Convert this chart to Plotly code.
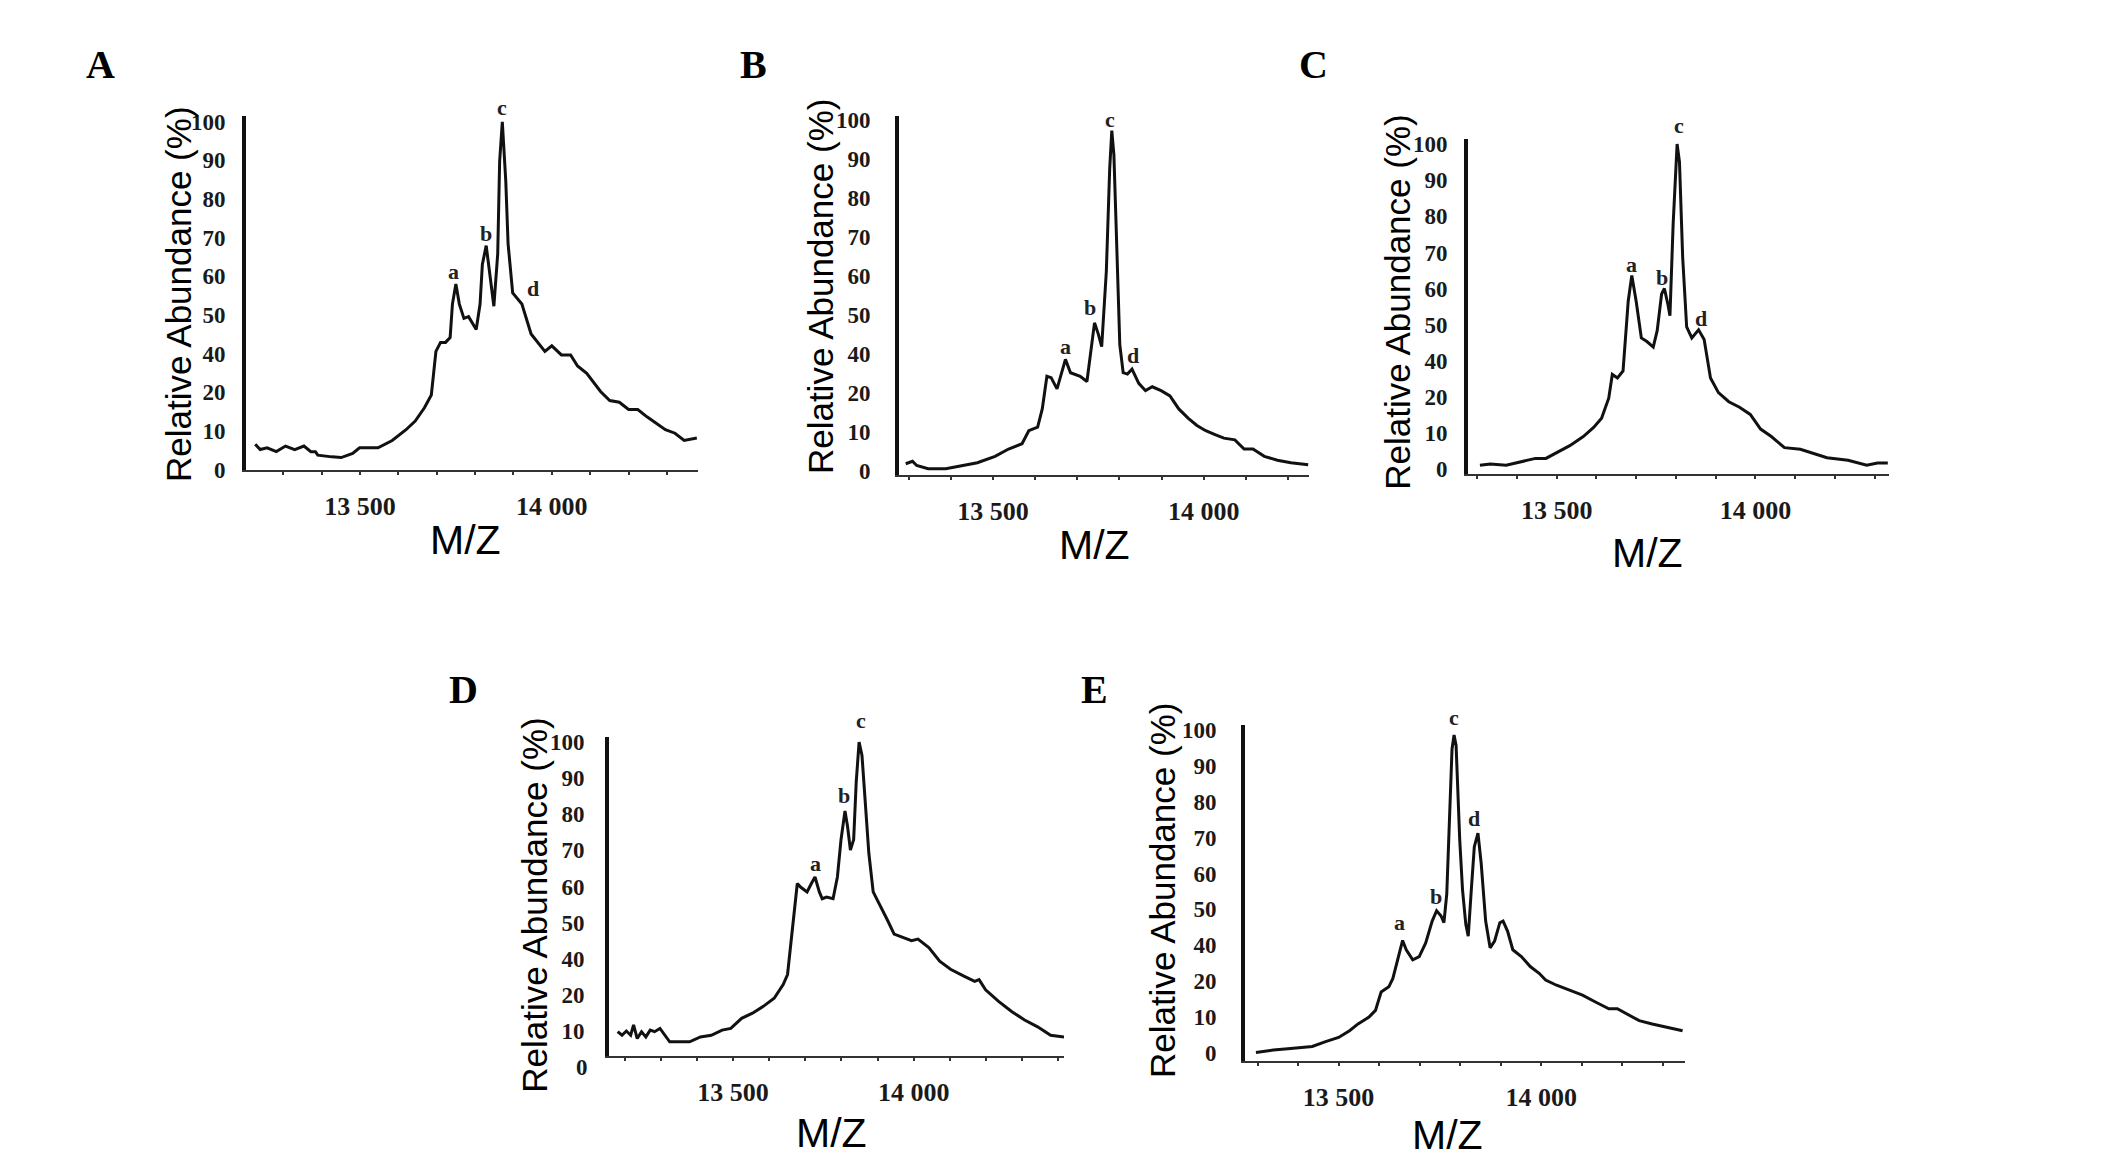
import plotly.graph_objects as go

# ---- spectra (m/z, relative abundance %) ----
A_MZ = [13227, 13240, 13258, 13282, 13306, 13330, 13354, 13372, 13384, 13390,
        13427, 13451, 13481, 13499, 13547, 13584, 13620, 13644, 13668, 13686,
        13698, 13710, 13723, 13735, 13741, 13750, 13759, 13771, 13783, 13795,
        13803, 13813, 13819, 13829, 13837, 13849, 13859, 13864, 13871, 13880,
        13886, 13898, 13922, 13946, 13982, 14000, 14025, 14049, 14067, 14091,
        14127, 14151, 14176, 14200, 14224, 14248, 14296, 14321, 14345, 14363, 14378]
A_ABUND = [7.3, 5.8, 6.3, 5.2, 6.8, 5.8, 6.8, 5.2, 5.2, 4.2,
           3.7, 3.5, 4.7, 6.3, 6.3, 8.4, 11.5, 14.0, 17.8, 21.5,
           34.0, 36.6, 36.6, 38.0, 47.6, 53.4, 47.6, 43.5, 44.0, 41.9,
           40.3, 47.6, 59.0, 64.4, 58.0, 47.0, 62.0, 88.5, 100.0, 83.0,
           65.0, 50.8, 47.6, 39.0, 34.0, 35.6, 33.0, 33.0, 29.8, 27.7,
           22.5, 19.9, 19.4, 17.3, 17.3, 15.2, 11.5, 10.5, 8.4, 8.9, 9.1]

B_MZ = [13293, 13309, 13319, 13346, 13388, 13420, 13463, 13505, 13537, 13569,
        13585, 13606, 13617, 13628, 13638, 13652, 13665, 13672, 13684, 13707,
        13723, 13734, 13741, 13750, 13758, 13769, 13777, 13782, 13787, 13793,
        13801, 13809, 13819, 13830, 13846, 13862, 13878, 13899, 13920, 13941,
        13963, 13984, 14005, 14027, 14048, 14074, 14096, 14117, 14144, 14175,
        14207, 14248]
B_ABUND = [2.1, 2.8, 1.6, 0.7, 0.7, 1.4, 2.4, 4.2, 6.3, 7.8,
           11.5, 12.5, 17.7, 27.0, 26.6, 23.4, 28.6, 31.8, 28.0, 27.0,
           25.5, 35.0, 42.2, 39.0, 35.4, 56.8, 86.0, 96.9, 90.0, 67.0,
           36.0, 28.0, 27.6, 29.0, 25.0, 22.9, 24.0, 22.9, 21.4, 17.7,
           15.1, 13.0, 11.5, 10.4, 9.4, 8.9, 6.3, 6.3, 4.2, 3.1,
           2.4, 1.8]

C_MZ = [13307, 13333, 13373, 13407, 13447, 13473, 13500, 13533, 13567, 13593,
        13613, 13631, 13640, 13653, 13667, 13673, 13680, 13689, 13700, 13713,
        13727, 13743, 13753, 13764, 13771, 13780, 13785, 13793, 13803, 13809,
        13817, 13827, 13840, 13857, 13871, 13887, 13907, 13933, 13960, 13987,
        14013, 14040, 14073, 14113, 14140, 14180, 14233, 14280, 14307, 14333]
C_ABUND = [1.3, 1.7, 1.3, 2.2, 3.4, 3.4, 5.1, 7.3, 10.1, 12.9,
           15.7, 21.9, 29.2, 28.1, 30.3, 39.3, 51.7, 59.6, 51.7, 40.4,
           39.3, 37.6, 42.7, 53.9, 55.6, 50.6, 47.2, 75.3, 100.0, 94.4,
           65.2, 43.8, 40.4, 42.9, 39.9, 28.1, 23.6, 20.8, 19.1, 16.9,
           12.4, 10.1, 6.7, 6.2, 5.1, 3.6, 2.8, 1.3, 2.0, 2.0]

D_MZ = [13181, 13193, 13205, 13217, 13225, 13235, 13247, 13259, 13271, 13283,
        13298, 13313, 13325, 13355, 13380, 13410, 13440, 13470, 13494, 13524,
        13554, 13584, 13614, 13639, 13651, 13659, 13669, 13678, 13687, 13705,
        13717, 13727, 13739, 13747, 13759, 13777, 13789, 13799, 13810, 13817,
        13825, 13834, 13841, 13849, 13857, 13865, 13876, 13888, 13910, 13928,
        13946, 13970, 13994, 14012, 14042, 14072, 14102, 14139, 14169, 14181,
        14199, 14235, 14271, 14307, 14343, 14379, 14416]
D_ABUND = [10.9, 9.8, 11.1, 9.8, 13.0, 8.8, 10.9, 9.3, 11.4, 10.9,
           11.9, 9.8, 7.8, 7.8, 7.8, 9.3, 9.8, 11.4, 11.9, 15.0,
           16.6, 18.7, 21.2, 25.4, 28.5, 36.8, 48.2, 56.5, 55.4, 53.9,
           56.5, 58.5, 53.9, 51.8, 52.3, 51.8, 58.5, 70.0, 78.8, 74.1,
           66.8, 70.0, 87.6, 100.0, 95.9, 83.4, 65.8, 53.9, 49.2, 45.1,
           40.9, 39.9, 38.9, 39.4, 36.8, 32.6, 30.1, 28.0, 26.4, 26.9,
           23.8, 20.2, 17.1, 14.5, 12.4, 9.8, 9.3]

E_MZ = [13296, 13339, 13382, 13435, 13468, 13500, 13527, 13548, 13575, 13591,
        13605, 13624, 13634, 13645, 13651, 13658, 13667, 13683, 13699, 13715,
        13731, 13742, 13753, 13760, 13767, 13774, 13780, 13785, 13790, 13799,
        13806, 13814, 13820, 13828, 13835, 13844, 13852, 13863, 13874, 13885,
        13898, 13906, 13917, 13930, 13951, 13973, 13995, 14011, 14038, 14070,
        14102, 14134, 14167, 14188, 14210, 14242, 14274, 14307, 14349]
E_ABUND = [0.0, 0.8, 1.3, 1.9, 3.4, 4.7, 6.8, 8.9, 11.0, 13.1,
           18.8, 20.4, 23.0, 28.3, 31.9, 34.8, 31.9, 28.8, 29.8, 34.0,
           40.8, 44.0, 42.4, 40.3, 49.2, 74.3, 94.2, 98.5, 95.3, 66.0,
           50.3, 39.8, 36.1, 51.3, 63.9, 68.1, 58.6, 40.8, 32.5, 34.6,
           40.3, 40.8, 37.7, 31.9, 29.8, 26.7, 24.6, 22.5, 20.9, 19.4,
           17.8, 15.7, 13.6, 13.6, 12.0, 9.9, 8.9, 7.9, 6.8]

# peak letters (text, m/z, abundance where the letter sits)
A_PEAK_TEXT = ["a", "b", "c", "d"]
A_PEAK_MZ = [13744, 13829, 13871, 13950]
A_PEAK_Y = [57, 68, 104, 52]
B_PEAK_TEXT = ["a", "b", "c", "d"]
B_PEAK_MZ = [13672, 13731, 13777, 13833]
B_PEAK_Y = [35.5, 46.5, 100, 33]
C_PEAK_TEXT = ["a", "b", "c", "d"]
C_PEAK_MZ = [13689, 13764, 13807, 13863]
C_PEAK_Y = [63, 59, 105.5, 46.5]
D_PEAK_TEXT = ["a", "b", "c"]
D_PEAK_MZ = [13729, 13807, 13853]
D_PEAK_Y = [62.5, 83.5, 106.5]
E_PEAK_TEXT = ["a", "b", "c", "d"]
E_PEAK_MZ = [13651, 13740, 13785, 13835]
E_PEAK_Y = [40.5, 48.5, 104, 72.5]

# y tick labels as printed (the "30" is missing in the original artwork)
Y_TICK_TEXT = ["0", "10", "20", "40", "50", "60", "70", "80", "90", "100"]
X_TICK_VALS = list(range(13100, 14501, 100))
X_TICK_TEXT = {13500: "13 500", 14000: "14 000"}

W, H = 2126, 1175
SERIF = "Liberation Serif, Times New Roman, serif"
SANS = "Liberation Sans, Arial, sans-serif"
Y_TICK_SIZE = 23

# layout of each panel in pixels: box = (left, right, top, bottom)
PANELS = [
    dict(name="A", mz=A_MZ, ab=A_ABUND, pk=(A_PEAK_TEXT, A_PEAK_MZ, A_PEAK_Y),
         box=(238, 690, 102, 462), xr=(13203, 14381), yr=(0, 101.6), gap=12,
         letter=(92, 49), ytitle=(171, 283), mztitle=(457, 534)),
    dict(name="B", mz=B_MZ, ab=B_ABUND, pk=(B_PEAK_TEXT, B_PEAK_MZ, B_PEAK_Y),
         box=(891, 1301, 102, 467), xr=(13277, 14250), yr=(-1.0, 101.0), gap=20,
         letter=(745, 49), ytitle=(812, 275), mztitle=(1086, 539)),
    dict(name="C", mz=C_MZ, ab=C_ABUND, pk=(C_PEAK_TEXT, C_PEAK_MZ, C_PEAK_Y),
         box=(1460, 1881, 125, 466), xr=(13277, 14336), yr=(-1.3, 101.6), gap=12,
         letter=(1305, 49), ytitle=(1390, 291), mztitle=(1639, 547)),
    dict(name="D", mz=D_MZ, ab=D_ABUND, pk=(D_PEAK_TEXT, D_PEAK_MZ, D_PEAK_Y),
         box=(601, 1056, 734, 1059), xr=(13157, 14416), yr=(3.4, 101.6), gap=16,
         letter=(455, 686), ytitle=(527, 905), mztitle=(823, 1137)),
    dict(name="E", mz=E_MZ, ab=E_ABUND, pk=(E_PEAK_TEXT, E_PEAK_MZ, E_PEAK_Y),
         box=(1237, 1677, 722, 1064), xr=(13269, 14355), yr=(-2.6, 101.6), gap=20,
         letter=(1086, 686), ytitle=(1154, 890), mztitle=(1439, 1139)),
]


def px(x, y):
    return x / W, 1 - y / H


fig = go.Figure()
annotations = []
y_tick_vals = [i * 100 / 9 for i in range(10)]

for i, p in enumerate(PANELS, start=1):
    xa, ya = ("x", "y") if i == 1 else ("x%d" % i, "y%d" % i)
    left, right, top, bottom = p["box"]
    y0, y1 = p["yr"]
    px_per_unit = (bottom - top) / (y1 - y0)

    fig.add_trace(go.Scatter(x=p["mz"], y=p["ab"], mode="lines", xaxis=xa, yaxis=ya,
                             line=dict(color="#111111", width=3), showlegend=False,
                             hoverinfo="skip"))

    common = dict(showgrid=False, zeroline=False, showline=True, mirror=False)
    fig.layout["xaxis" + ("" if i == 1 else str(i))] = dict(
        common, domain=[left / W, right / W], anchor=ya, range=list(p["xr"]),
        linecolor="#333333", linewidth=2,
        tickvals=X_TICK_VALS, ticktext=[X_TICK_TEXT.get(v, "") for v in X_TICK_VALS],
        ticks="outside", ticklen=3, tickwidth=2, tickcolor="#333333",
        ticklabelstandoff=9,
        tickfont=dict(family=SERIF, size=26, color="#1a1a1a", weight="bold"))
    fig.layout["yaxis" + ("" if i == 1 else str(i))] = dict(
        common, domain=[1 - bottom / H, 1 - top / H], anchor=xa, range=list(p["yr"]),
        linecolor="#111111", linewidth=4,
        tickvals=y_tick_vals, ticktext=Y_TICK_TEXT, ticks="",
        ticklabelstandoff=p["gap"],
        tickfont=dict(family=SERIF, size=Y_TICK_SIZE, color="#1a1a1a", weight="bold"))

    # panel letter
    lx, ly = px(*p["letter"])
    annotations.append(dict(x=lx, y=ly, xref="paper", yref="paper", text=p["name"],
                            showarrow=False, xanchor="center", yanchor="middle",
                            font=dict(family=SERIF, size=40, color="#000000", weight="bold")))
    # y axis title
    tx, ty = px(*p["ytitle"])
    annotations.append(dict(x=tx, y=ty, xref="paper", yref="paper",
                            text="Relative Abundance (%)", textangle=-90, showarrow=False,
                            xanchor="center", yanchor="middle",
                            font=dict(family=SANS, size=35, color="#000000")))
    # x axis title
    mx, my = px(*p["mztitle"])
    annotations.append(dict(x=mx, y=my, xref="paper", yref="paper", text="M/Z",
                            showarrow=False, xanchor="center", yanchor="middle",
                            font=dict(family=SANS, size=41, color="#000000")))
    # peak letters (kept inside the range, lifted with a pixel shift when above it)
    for t, xm, yv in zip(*p["pk"]):
        y_in = min(yv, y1)
        annotations.append(dict(x=xm, y=y_in, xref=xa, yref=ya, text=t, showarrow=False,
                                xanchor="center", yanchor="middle",
                                yshift=(yv - y_in) * px_per_unit,
                                font=dict(family=SERIF, size=22, color="#222222",
                                          weight="bold")))
    # panel D prints its "0" below the axis line
    if y0 > 0:
        zero_px = bottom + y0 * px_per_unit
        annotations.append(dict(x=left / W, y=1 - zero_px / H, xref="paper", yref="paper",
                                text="0", showarrow=False, xanchor="right",
                                yanchor="middle", xshift=-p["gap"] - 3,
                                font=dict(family=SERIF, size=Y_TICK_SIZE, color="#1a1a1a",
                                          weight="bold")))

fig.update_layout(width=W, height=H, margin=dict(l=0, r=0, t=0, b=0),
                  paper_bgcolor="white", plot_bgcolor="white",
                  annotations=annotations)

fig.write_html("out.html")
